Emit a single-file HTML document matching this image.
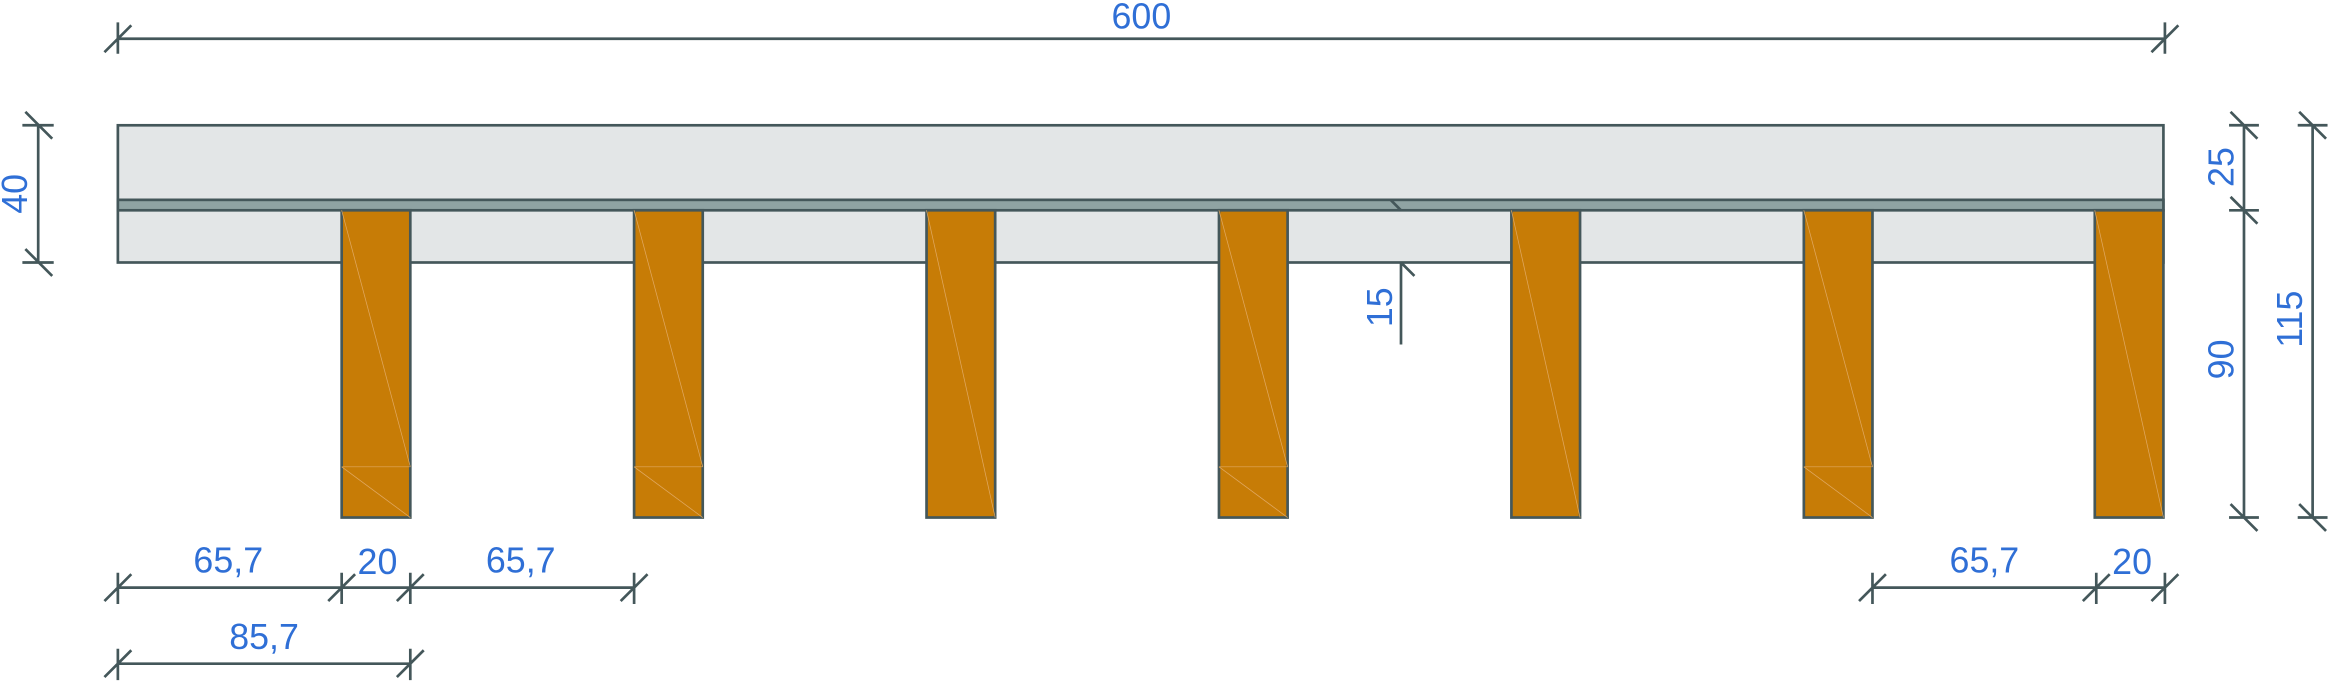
<!DOCTYPE html>
<html><head><meta charset="utf-8"><style>
html,body{margin:0;padding:0;background:#fff;}
svg{display:block;}
text{font-family:"Liberation Sans",Arial,sans-serif;fill:#2f6fd6;font-size:24px;}
</style></head><body>
<svg width="2335" height="695" viewBox="0 0 1565 466" preserveAspectRatio="none" xmlns="http://www.w3.org/2000/svg">
<g stroke="#44575a" stroke-width="1.8" fill="none">
<rect x="79" y="84" width="1371" height="92" fill="#e3e6e7"/>
<rect x="79" y="134" width="1371" height="7" fill="#8fa3a3"/>
</g>
<g stroke="#44575a" stroke-width="1.8">
<g fill="#c77c06">
<rect x="229" y="141" width="46" height="206"/>
<rect x="425" y="141" width="46" height="206"/>
<rect x="621" y="141" width="46" height="206"/>
<rect x="817" y="141" width="46" height="206"/>
<rect x="1013" y="141" width="46" height="206"/>
<rect x="1209" y="141" width="46" height="206"/>
<rect x="1404" y="141" width="46" height="206"/>
</g>
</g>
<g stroke="#e0a860" stroke-width="0.5">
<path d="M229 313H275M229 141L275 313M229 313L275 347"/>
<path d="M425 313H471M425 141L471 313M425 313L471 347"/>
<path d="M621 141L667 347"/>
<path d="M817 313H863M817 141L863 313M817 313L863 347"/>
<path d="M1013 141L1059 347"/>
<path d="M1209 313H1255M1209 141L1255 313M1209 313L1255 347"/>
<path d="M1404 141L1450 347"/>
</g>
<g stroke="#44575a" stroke-width="1.8" fill="none">
<path d="M79 26H1451M79 15V36M70 35L88 17M1451 15V36M1442 35L1460 17"/>
<path d="M25.6 84V176M15 84H36M15 176H36M17 75L35 93M17 167L35 185"/>
<path d="M1504 84V347M1494 84H1514M1494 141H1514M1494 347H1514M1495 75L1513 93M1495 132L1513 150M1495 338L1513 356"/>
<path d="M1550 84V347M1540 84H1560M1540 347H1560M1541 75L1559 93M1541 338L1559 356"/>
<path d="M939 176V231M939 176L948 185M932 134L939 141"/>
<path d="M79 394H425M79 384V405M229 384V405M275 384V405M425 384V405M70 403L88 385M220 403L238 385M266 403L284 385M416 403L434 385"/>
<path d="M1255 394H1451M1255 384V405M1405 384V405M1451 384V405M1246 403L1264 385M1396 403L1414 385M1442 403L1460 385"/>
<path d="M79 445H275M79 435V456M275 435V456M70 454L88 436M266 454L284 436"/>
</g>
<text x="765" y="19" text-anchor="middle">600</text>
<text x="153" y="384" text-anchor="middle">65,7</text>
<text x="253" y="385" text-anchor="middle">20</text>
<text x="349" y="384" text-anchor="middle">65,7</text>
<text x="1330" y="384" text-anchor="middle">65,7</text>
<text x="1429" y="385" text-anchor="middle">20</text>
<text x="177" y="435" text-anchor="middle">85,7</text>
<text transform="translate(18,130) rotate(-90)" text-anchor="middle">40</text>
<text transform="translate(1497,112) rotate(-90)" text-anchor="middle">25</text>
<text transform="translate(1497,241) rotate(-90)" text-anchor="middle">90</text>
<text transform="translate(1543,214) rotate(-90)" text-anchor="middle">115</text>
<text transform="translate(933,206) rotate(-90)" text-anchor="middle">15</text>
</svg>
</body></html>
